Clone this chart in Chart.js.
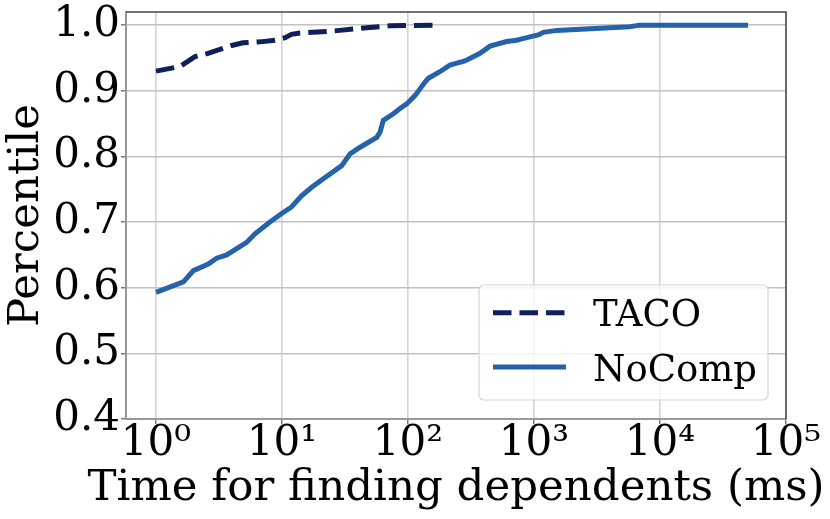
<!DOCTYPE html>
<html>
<head>
<meta charset="utf-8">
<script src="https://cdn.jsdelivr.net/npm/chart.js@4.4.1/dist/chart.umd.min.js"></script>
<style>
    html, body { margin: 0; padding: 0; background: #ffffff; }
    #wrap { width: 830px; height: 519px; position: relative; }
</style>
</head>
<body>
<div id="wrap"><canvas id="cdfChart"></canvas></div>
<script>
// CDF of time to find dependents
const tacoTimes = [1, 1.55, 2.04, 2.59, 3.99, 4.9, 6.7, 8.8, 10.6, 11.9, 13.9, 25.4, 46.9, 72, 158];
const tacoPct = [0.930, 0.937, 0.952, 0.957, 0.969, 0.973, 0.9745, 0.977, 0.981, 0.986, 0.988, 0.991, 0.996, 0.999, 1.0];

const noCompTimes = [1, 1.65, 1.98, 2.6, 3.03, 3.64, 5.25, 6.1, 8.03, 9.94, 11.9, 14.3, 17.2, 21.3, 29.8, 34.7, 41.7,
    56.5, 60, 63.7, 76.5, 86.4, 97.7, 114, 136, 145, 179, 215, 283, 373, 448, 607, 728, 875, 1081, 1188, 1514,
    3342, 5760, 6918, 50000];
const noCompPct = [0.593, 0.609, 0.626, 0.636, 0.645, 0.650, 0.669, 0.682, 0.700, 0.713, 0.723, 0.740, 0.753, 0.766,
    0.786, 0.804, 0.814, 0.829, 0.837, 0.855, 0.865, 0.873, 0.880, 0.893, 0.913, 0.919, 0.929, 0.939, 0.9455,
    0.957, 0.968, 0.975, 0.977, 0.981, 0.985, 0.989, 0.992, 0.9954, 0.9975, 1.0, 1.0];

const seriesNames = ['TACO', 'NoComp'];
const xTicks = [1, 10, 100, 1000, 10000, 100000];
const xTickLabels = ['10⁰', '10¹', '10²', '10³', '10⁴', '10⁵'];
const yTicks = [0.4, 0.5, 0.6, 0.7, 0.8, 0.9, 1.0];
const xTitle = 'Time for finding dependents (ms)';
const yTitle = 'Percentile';

const FONT = "'DejaVu Serif'";

function toPoints(xs, ys) {
    return xs.map((x, i) => ({ x: x, y: ys[i] }));
}

// top/right spines, x title and the in-plot legend
const framePlugin = {
    id: 'frame',
    afterDatasetsDraw(chart) {
        const { ctx, chartArea: a } = chart;
        ctx.save();
        ctx.strokeStyle = '#444444';
        ctx.lineWidth = 1.5;
        ctx.beginPath();
        ctx.moveTo(a.left, a.top);
        ctx.lineTo(a.right, a.top);
        ctx.lineTo(a.right, a.bottom);
        ctx.stroke();

        // legend box
        const bx = 479, by = 285, bw = 289, bh = 115, r = 5;
        ctx.beginPath();
        ctx.moveTo(bx + r, by);
        ctx.arcTo(bx + bw, by, bx + bw, by + bh, r);
        ctx.arcTo(bx + bw, by + bh, bx, by + bh, r);
        ctx.arcTo(bx, by + bh, bx, by, r);
        ctx.arcTo(bx, by, bx + bw, by, r);
        ctx.closePath();
        ctx.fillStyle = 'rgba(255,255,255,0.8)';
        ctx.fill();
        ctx.strokeStyle = '#d6d6d6';
        ctx.lineWidth = 1.2;
        ctx.stroke();

        const rows = [312.7, 367];
        chart.data.datasets.forEach((ds, i) => {
            const y = rows[i];
            ctx.strokeStyle = ds.borderColor;
            ctx.lineWidth = ds.borderWidth;
            ctx.lineCap = 'butt';
            ctx.setLineDash(ds.borderDash || []);
            ctx.beginPath();
            ctx.moveTo(493, y);
            ctx.lineTo(566, y);
            ctx.stroke();
            ctx.setLineDash([]);
            ctx.fillStyle = '#000000';
            ctx.font = "37px " + FONT;
            ctx.textAlign = 'left';
            ctx.textBaseline = 'alphabetic';
            ctx.fillText(ds.label, 593, y + 13.5);
        });
        ctx.restore();
    },
    afterDraw(chart) {
        const { ctx, chartArea: a } = chart;
        ctx.save();
        ctx.fillStyle = '#000000';
        ctx.font = "43.5px " + FONT;
        ctx.textAlign = 'center';
        ctx.textBaseline = 'alphabetic';
        ctx.fillText(xTitle, (a.left + a.right) / 2, 500);
        ctx.restore();
    }
};

const config = {
    type: 'line',
    data: {
        datasets: [
            {
                label: seriesNames[0],
                data: toPoints(tacoTimes, tacoPct),
                borderColor: '#0e1f5c',
                borderWidth: 5,
                borderDash: [18.5, 8],
                borderCapStyle: 'butt',
                pointRadius: 0,
                tension: 0,
                fill: false
            },
            {
                label: seriesNames[1],
                data: toPoints(noCompTimes, noCompPct),
                borderColor: '#2462ab',
                borderWidth: 5,
                borderCapStyle: 'butt',
                pointRadius: 0,
                tension: 0,
                fill: false
            }
        ]
    },
    options: {
        responsive: true,
        maintainAspectRatio: false,
        animation: false,
        devicePixelRatio: 1,
        layout: {
            padding: { top: 12, right: 44, left: 0, bottom: 0 }
        },
        plugins: {
            legend: { display: false },
            tooltip: { enabled: false },
            title: { display: false }
        },
        scales: {
            x: {
                type: 'logarithmic',
                min: 0.578,
                max: 100000,
                afterBuildTicks: (scale) => {
                    scale.ticks = xTicks.map(v => ({ value: v, major: true }));
                },
                afterFit: (scale) => { scale.height = 100; },
                grid: {
                    color: '#d3d3d3',
                    lineWidth: 1.6,
                    drawTicks: true,
                    tickLength: 5,
                    tickColor: '#555555',
                    tickWidth: 1.2
                },
                border: { color: '#999999', width: 2 },
                ticks: {
                    autoSkip: false,
                    maxRotation: 0,
                    padding: -5,
                    color: '#000000',
                    font: { family: FONT, size: 42 },
                    callback: (value) => {
                        const i = xTicks.indexOf(value);
                        return i >= 0 ? xTickLabels[i] : '';
                    }
                },
                title: { display: false }
            },
            y: {
                type: 'linear',
                min: 0.4,
                max: 1.02,
                afterBuildTicks: (scale) => {
                    scale.ticks = yTicks.map(v => ({ value: v }));
                },
                afterFit: (scale) => { scale.width = 126; },
                grid: {
                    color: '#c2c2c2',
                    lineWidth: 1.6,
                    drawTicks: true,
                    tickLength: 5,
                    tickColor: '#555555',
                    tickWidth: 1.2
                },
                border: { color: '#999999', width: 2 },
                ticks: {
                    padding: 1,
                    color: '#000000',
                    font: { family: FONT, size: 42, lineHeight: 0.5 },
                    callback: (value) => Number(value).toFixed(1)
                },
                title: {
                    display: true,
                    text: yTitle,
                    color: '#000000',
                    font: { family: FONT, size: 43.5 },
                    padding: { top: 1, bottom: 0 }
                }
            }
        }
    },
    plugins: [framePlugin]
};

window.cdfChart = new Chart(document.getElementById('cdfChart'), config);
</script>
</body>
</html>
